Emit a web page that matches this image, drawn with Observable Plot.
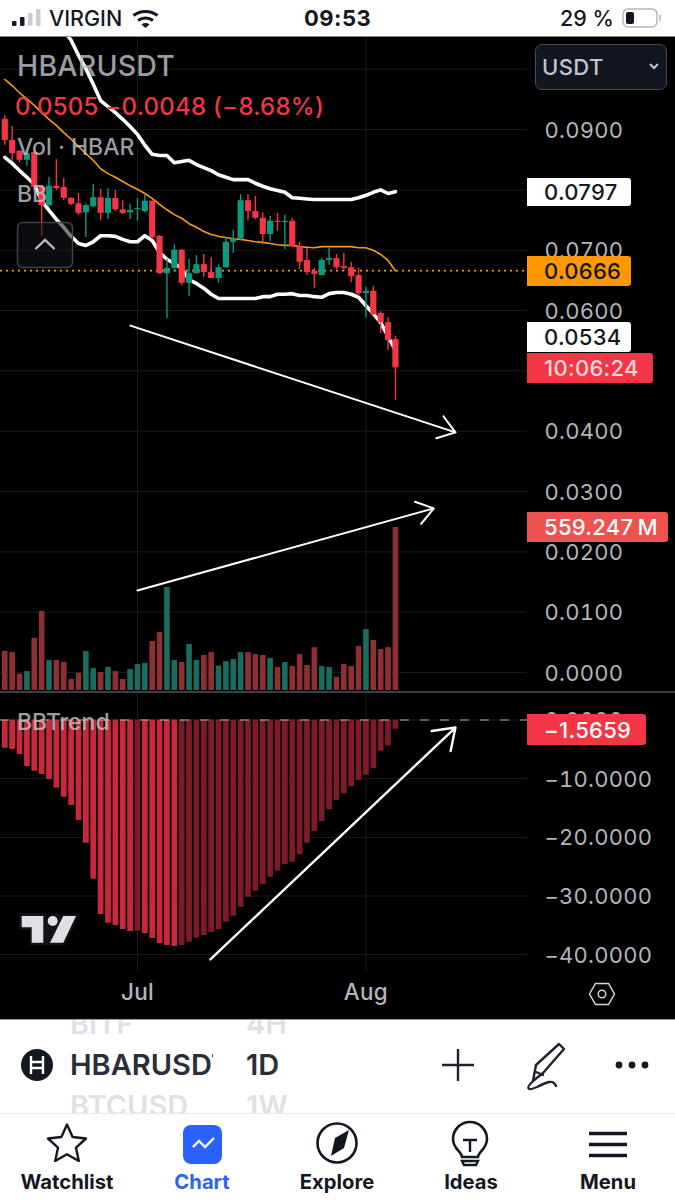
<!DOCTYPE html>
<html>
<head>
<meta charset="utf-8">
<script src="https://cdn.jsdelivr.net/npm/d3@7"></script>
<script src="https://cdn.jsdelivr.net/npm/@observablehq/plot@0.6"></script>
<style>
  html,body{margin:0;padding:0;background:#fff}
  #app{position:relative;width:675px;height:1200px;overflow:hidden;font-family:Inter,"Noto Sans",sans-serif;background:#fff}
  #panel{position:absolute;left:0;top:36px;width:675px;height:984px;background:#000;border-top:1px solid #8a8a8a;border-bottom:1px solid #9a9a9a;box-sizing:border-box}
  .plot{position:absolute;left:0;background:transparent!important}
  .plot text{letter-spacing:.25px}
  .abs{position:absolute;white-space:nowrap;line-height:1}
  .tag{position:absolute;left:527px;font-size:22px;font-weight:500;border-radius:0 3px 3px 0;box-sizing:border-box;padding-left:17px;letter-spacing:.3px;word-spacing:-2px;display:flex;align-items:center}
  .tab{position:absolute;top:1172px;font-weight:700;font-size:20px;color:#131722;line-height:1;transform:translate(-50%,0) scaleX(1.01)}
  svg.chrome{position:absolute;left:0;top:0;overflow:visible;pointer-events:none}
</style>
</head>
<body>
<div id="app"></div>
<script>
// ---------- data ----------
const firstDay = "2024-06-13";
const opens  = [.0917,.0882,.0864,.0849,.0862,.0804,.0774,.0806,.0804,.0786,.0777,.0762,.0772,.0787,.0761,.0786,.0767,.0762,.0767,.0764,.0781,.0723,.0661,.0670,.0700,.0645,.0661,.0676,.0663,.0653,.0671,.0713,.0719,.0782,.0764,.0753,.0726,.0748,.0746,.0748,.0706,.0683,.0665,.0658,.0683,.0686,.0673,.0671,.0658,.0628,.0632,.0595,.0580,.0552];
const highs  = [.0923,.0905,.0865,.0865,.0864,.0806,.0821,.0850,.0819,.0787,.0794,.0777,.0809,.0801,.0802,.0799,.0782,.0776,.0786,.0791,.0782,.0724,.0685,.0709,.0701,.0685,.0691,.0693,.0688,.0676,.0721,.0733,.0792,.0792,.0789,.0762,.0756,.0761,.0758,.0753,.0714,.0703,.0670,.0686,.0703,.0693,.0695,.0680,.0670,.0638,.0640,.0598,.0588,.0557];
const lows   = [.0874,.0847,.0845,.0839,.0799,.0723,.0771,.0799,.0782,.0774,.0758,.0721,.0771,.0749,.0751,.0764,.0759,.0751,.0748,.0762,.0718,.0660,.0587,.0663,.0641,.0623,.0661,.0655,.0653,.0645,.0670,.0695,.0716,.0749,.0751,.0709,.0714,.0731,.0701,.0704,.0668,.0658,.0637,.0658,.0675,.0668,.0665,.0646,.0623,.0588,.0592,.0562,.0534,.0451];
const closes = [.0882,.0860,.0849,.0860,.0804,.0774,.0806,.0802,.0786,.0776,.0761,.0774,.0787,.0761,.0786,.0767,.0761,.0766,.0769,.0781,.0721,.0661,.0670,.0700,.0645,.0661,.0676,.0663,.0653,.0671,.0713,.0719,.0782,.0764,.0753,.0726,.0748,.0746,.0748,.0706,.0680,.0663,.0660,.0683,.0686,.0671,.0670,.0656,.0628,.0632,.0593,.0580,.0550,.0505];
const bbUpper = [null,null,null,null,null,null,null,null,.1064,.1048,.1023,.1001,.0975,.0948,.0938,.0928,.0917,.0905,.0892,.0874,.0859,.0857,.0857,.0845,.0847,.0849,.0842,.0837,.0832,.0825,.0821,.0817,.0817,.0817,.0811,.0806,.0802,.0799,.0796,.0787,.0786,.0785,.0784,.0784,.0784,.0784,.0784,.0784,.0787,.0791,.0796,.0800,.0794,.0797];
const bbBasis = [.0983,.0973,.0961,.0951,.0940,.0928,.0917,.0907,.0895,.0884,.0872,.0860,.0849,.0835,.0827,.0821,.0814,.0807,.0801,.0794,.0786,.0776,.0767,.0759,.0753,.0744,.0738,.0731,.0726,.0723,.0721,.0719,.0718,.0716,.0714,.0713,.0711,.0709,.0708,.0708,.0706,.0705,.0704,.0706,.0706,.0706,.0706,.0706,.0704,.0704,.0700,.0693,.0683,.0666];
const bbLower = [.0854,.0844,.0832,.0821,.0809,.0782,.0766,.0751,.0738,.0723,.0711,.0708,.0714,.0724,.0724,.0723,.0718,.0714,.0714,.0724,.0716,.0696,.0685,.0678,.0670,.0651,.0645,.0637,.0627,.0620,.0620,.0620,.0620,.0620,.0620,.0623,.0623,.0627,.0627,.0628,.0625,.0625,.0623,.0622,.0628,.0630,.0630,.0627,.0622,.0608,.0595,.0580,.0557,.0534];
const volumesM = [134,130,56,65,179,271,103,103,96,38,59,134,75,62,79,65,38,72,89,93,168,199,353,103,96,158,103,120,130,84,99,106,130,130,123,120,110,79,96,82,123,86,147,82,79,45,89,82,151,209,172,141,147,559.247];
const bbTrend = [-4.81,-5.03,-5.88,-7.93,-8.73,-9.29,-10.14,-11.62,-13.16,-14.57,-17.13,-21.0,-27.14,-33.15,-34.64,-35.03,-35.71,-36.05,-35.98,-36.39,-37.24,-38.1,-38.44,-38.61,-38.44,-37.87,-37.19,-36.73,-36.22,-35.71,-34.47,-33.44,-31.91,-30.2,-29.18,-28.04,-26.8,-25.77,-24.63,-24.24,-22.98,-21.0,-19.0,-17.3,-15.31,-13.72,-12.58,-11.33,-10.31,-9.41,-8.27,-5.32,-4.4,-1.5659];
const priceGrid = [0,.01,.02,.03,.04,.05,.06,.07,.08,.09,.1];
const priceLabels = [0,.01,.02,.03,.04,.06,.07,.09];
const trendTicks = [0,-10,-20,-30,-40];
const monthTicks = [new Date("2024-07-01"), new Date("2024-08-01")];
const lastBasis = 0.0666;
const priceArrow  = [{x1:"2024-06-30T01:00Z",y1:.0575,x2:"2024-08-13T03:30Z",y2:.0398}];
const volumeArrow = [{x1:"2024-07-01T00:00Z",y1:.0136,x2:"2024-08-10T05:00Z",y2:.0272}];
const trendArrow  = [{x1:"2024-07-10T21:30Z",y1:-40.8,x2:"2024-08-13T03:30Z",y2:-1.28}];
const tagsList = [
  {label:"0.0797",  top:178, h:28, w:104, bg:"#ffffff", fg:"#131722"},
  {label:"0.0666",  top:256, h:30, w:104, bg:"#ff9800", fg:"#131722"},
  {label:"0.0534",  top:322, h:30, w:104, bg:"#ffffff", fg:"#131722"},
  {label:"10:06:24",top:353, h:30, w:126, bg:"#f23645", fg:"#ffd9dc"},
  {label:"559.247 M",top:512,h:30, w:141, bg:"#ef5350", fg:"#ffffff"},
  {label:"\u22121.5659",top:714,h:31,w:119, bg:"#f23645", fg:"#ffffff"}
];

// ---------- rows ----------
const start = new Date(firstDay + "T00:00Z");
const rows = opens.map((o, i) => ({
  date: d3.utcDay.offset(start, i),
  open: o, high: highs[i], low: lows[i], close: closes[i],
  upper: bbUpper[i], basis: bbBasis[i], lower: bbLower[i],
  vol: volumesM[i], trend: bbTrend[i],
  trendPrev: i ? bbTrend[i - 1] : Infinity
}));

// ---------- styles ----------
const RED = "#f23645", GREEN = "#0a9a80", VRED = "#8c3034", VGREEN = "#1c6b5f";
const TBRIGHT = "#c9283c", TDARK = "#7d1b2a";
const GRID = "#1b1b1b", AXIS = "#b2b5be", FONT = "Inter, 'Noto Sans', sans-serif";
const xScale = {type:"utc", domain:[new Date("2024-06-12T10:00Z"), new Date("2024-08-22T22:05Z")], axis:null};
const common = {width:675, marginLeft:0, marginRight:148, marginTop:0, style:{background:"transparent", overflow:"visible"}};
const axisOpts = {anchor:"right", tickSize:0, tickPadding:17, label:null, fontSize:22, fontWeight:400, fontFamily:FONT, fill:AXIS, dy:1};
const candleStroke = d => d.close >= d.open ? GREEN : RED;

// ---------- price pane ----------
const pricePlot = Plot.plot({
  ...common, height:654, marginBottom:0,
  x:xScale, y:{domain:[-.00315,.10526], axis:null},
  marks:[
    Plot.gridY(priceGrid,{stroke:GRID, strokeOpacity:1}),
    Plot.gridX(monthTicks,{stroke:GRID, strokeOpacity:1}),
    Plot.axisY(priceLabels,{...axisOpts, tickFormat:d3.format(".4f")}),
    Plot.ruleY([lastBasis],{stroke:"#ff9800", strokeWidth:1.7, strokeDasharray:"2,4"}),
    Plot.line(rows,{x:"date", y:"upper", stroke:"#fff", strokeWidth:3.6, clip:true}),
    Plot.line(rows,{x:"date", y:"lower", stroke:"#fff", strokeWidth:3.6, clip:true}),
    Plot.line(rows,{x:"date", y:"basis", stroke:"#f59a1c", strokeWidth:1.6, clip:true}),
    Plot.ruleX(rows,{x:"date", y1:"low", y2:"high", stroke:candleStroke, strokeWidth:1.4}),
    Plot.ruleX(rows,{x:"date", y1:"open", y2:"close", stroke:candleStroke, strokeWidth:6.2}),
    Plot.arrow(priceArrow,{x1:d=>new Date(d.x1), y1:"y1", x2:d=>new Date(d.x2), y2:"y2", stroke:"#fff", strokeWidth:2, headLength:15, headAngle:70, bend:0}),
    Plot.arrow(volumeArrow,{x1:d=>new Date(d.x1), y1:"y1", x2:d=>new Date(d.x2), y2:"y2", stroke:"#fff", strokeWidth:2, headLength:15, headAngle:70, bend:0})
  ]
});

// ---------- volume pane (own scale, over the price pane) ----------
const volumePlot = Plot.plot({
  ...common, height:654, marginBottom:1,
  x:xScale, y:{domain:[0,2240], axis:null},
  marks:[
    Plot.ruleX(rows,{x:"date", y1:0, y2:"vol", stroke:d=>d.close>=d.open?VGREEN:VRED, strokeWidth:5.6})
  ]
});

// ---------- BBTrend pane ----------
const trendPlot = Plot.plot({
  ...common, height:327, marginBottom:47,
  x:xScale, y:{domain:[-43.04,4.69], axis:null},
  marks:[
    Plot.gridY(trendTicks,{stroke:GRID, strokeOpacity:1}),
    Plot.gridX(monthTicks,{stroke:GRID, strokeOpacity:1}),
    Plot.axisY(trendTicks,{...axisOpts, tickFormat:d3.format(".4f")}),
    Plot.axisX(monthTicks,{anchor:"bottom", tickSize:0, tickPadding:12, label:null, fontSize:22.5, fontWeight:500, fontFamily:FONT, fill:AXIS, tickFormat:d3.utcFormat("%b")}),
    Plot.ruleX(rows,{x:"date", y1:0, y2:"trend", stroke:d=>d.trend<d.trendPrev?TBRIGHT:TDARK, strokeWidth:5.7}),
    Plot.ruleY([0],{stroke:"#aeb1b8", strokeWidth:1.2, strokeDasharray:"9,11"}),
    Plot.arrow(trendArrow,{x1:d=>new Date(d.x1), y1:"y1", x2:d=>new Date(d.x2), y2:"y2", stroke:"#fff", strokeWidth:2.4, headLength:15, headAngle:70, bend:0})
  ]
});

const app = document.getElementById("app");
function txt(s, left, top, size, color, weight, extra=""){
  const d = document.createElement("div");
  d.className = "abs";
  d.textContent = s;
  d.style.cssText = `left:${left}px;top:${top}px;font-size:${size}px;color:${color};font-weight:${weight};${extra}`;
  app.appendChild(d);
  return d;
}

// bottom picker (drawn first: the chart panel and the tab bar hide its edges)
const clip=(s,left,top,size,color,w)=>txt(s,left,top,size,color,600,`width:${w}px;overflow:hidden`);
clip("BITF",70,1009,29,"#dfe1e6",90); clip("4H",246,1009,29,"#dfe1e6",60);
clip("HBARUSDT",70,1050,29,"#2a2e39",143); clip("1D",246,1050,29,"#2a2e39",60);
clip("BTCUSD",70,1091,29,"#dfe1e6",130); clip("1W",246,1091,29,"#dfe1e6",60);
const cover=document.createElement("div");
cover.style.cssText="position:absolute;left:0;top:1113px;width:675px;height:87px;background:#fff;border-top:1px solid #e8e9ec";
app.appendChild(cover);
const panel=document.createElement("div"); panel.id="panel"; app.appendChild(panel);

[[pricePlot,37],[volumePlot,37],[trendPlot,692]].forEach(([p,t])=>{
  p.classList.add("plot"); p.style.top = t + "px"; app.appendChild(p);
});

const sep = document.createElement("div");
sep.style.cssText = "position:absolute;left:0;top:691px;width:675px;height:1.5px;background:#3b3e48";
app.appendChild(sep);

// legends
const LEG = "rgba(190,193,202,.82)";
txt("HBARUSDT",17,52,28.5,LEG,500,"letter-spacing:.2px");
txt("0.0505 \u22120.0048 (\u22128.68%)",15,95,24,"#f23645",500,"letter-spacing:.25px");
txt("Vol \u00b7 HBAR",17,136,23,LEG,500);
txt("BB",17,183,23,LEG,500);
txt("BBTrend",17,711,23,LEG,500);

// tags
tagsList.forEach(t=>{
  const d=document.createElement("div");
  d.className="tag"; d.textContent=t.label;
  d.style.cssText=`top:${t.top}px;height:${t.h}px;width:${t.w}px;background:${t.bg};color:${t.fg}`;
  app.appendChild(d);
});

// USDT button
const btn=document.createElement("div");
btn.style.cssText="position:absolute;left:535px;top:44px;width:132px;height:46px;background:#12161f;border:1.5px solid #444953;border-radius:7px;box-sizing:border-box";
app.appendChild(btn);
txt("USDT",542,56,22,"#c3c6ce",500,"letter-spacing:.4px");

// status bar
txt("VIRGIN",49,8,21.5,"#131722",500);
txt("09:53",304,7,22,"#131722",700,"letter-spacing:.5px");
txt("29 %",560,8,21.5,"#131722",500);

// tabs
[["Watchlist",67,"#131722"],["Chart",202,"#2962ff"],["Explore",337,"#131722"],["Ideas",471,"#131722"],["Menu",608,"#131722"]].forEach(([s,x,c])=>{
  const d=document.createElement("div"); d.className="tab"; d.textContent=s;
  d.style.left=x+"px"; d.style.color=c; app.appendChild(d);
});

// icons
const ns = document.createElementNS("http://www.w3.org/2000/svg","svg");
ns.setAttribute("class","chrome"); ns.setAttribute("width",675); ns.setAttribute("height",1200);
ns.innerHTML = `
  <rect x="12" y="21" width="4.5" height="5" rx="1" fill="#131722"/>
  <rect x="20" y="17" width="4.5" height="9" rx="1" fill="#131722"/>
  <rect x="28" y="13" width="4.5" height="13" rx="1" fill="#c9cbd0"/>
  <rect x="36" y="9" width="4.5" height="17" rx="1" fill="#c9cbd0"/>
  <g fill="none" stroke="#131722" stroke-width="3.2" stroke-linecap="butt">
    <path d="M133.5 15.5a20 20 0 0 1 24 0"/><path d="M138 20.5a13 13 0 0 1 15 0"/>
  </g>
  <path d="M141.5 24.5a7 7 0 0 1 8 0L145.5 28Z" fill="#131722"/>
  <rect x="623" y="9" width="34" height="18" rx="5" fill="none" stroke="#b5b7bc" stroke-width="1.5"/>
  <rect x="626" y="12" width="8" height="12" rx="2" fill="#131722"/>
  <path d="M660 15v6" stroke="#b5b7bc" stroke-width="1.5"/>
  <rect x="17.5" y="222.5" width="55" height="45" rx="5" fill="rgba(20,22,28,.55)" stroke="#3f424b" stroke-width="1.5"/>
  <path d="M35.5 249l9.5-9 9.5 9" fill="none" stroke="#b9bcc4" stroke-width="2.4"/>
  <path d="M650 64l4 4 4-4" fill="none" stroke="#c3c6ce" stroke-width="2"/>
  <path d="M19 913H45L47 918 52 914H80L65 945H30V930H19Z" fill="#10131a"/>
  <path d="M21.7 916H43.3V942.7H31.7V927.3H21.7Z" fill="#dfe0e6"/>
  <circle cx="52.7" cy="921" r="5" fill="#dfe0e6"/>
  <path d="M63.3 916H76L63.3 942.7H50Z" fill="#dfe0e6"/>
  <path d="M589.5 994l6-10.5h13l6 10.5-6 10.5h-13Z" fill="none" stroke="#d5d7dc" stroke-width="1.5"/>
  <circle cx="602" cy="994" r="3.8" fill="none" stroke="#d5d7dc" stroke-width="1.5"/>
  <circle cx="37" cy="1065" r="16" fill="#131722"/>
  <path d="M31 1056v18M43 1056v18M31 1062h12M31 1068h12" stroke="#fff" stroke-width="2.4" fill="none"/>
  <path d="M458 1049v32M442 1065h32" stroke="#1e222d" stroke-width="2.4"/>
  <path d="M533 1081l3-16 23-21 5 5-21 24Z" fill="none" stroke="#1e222d" stroke-width="2.4" stroke-linejoin="round"/>
  <path d="M536 1072l7 3M533 1081c-8 8 -5 10 4 6c10-5 16-8 19-1" fill="none" stroke="#1e222d" stroke-width="2.4" stroke-linecap="round"/>
  <circle cx="619" cy="1065" r="3.4" fill="#131722"/><circle cx="632" cy="1065" r="3.4" fill="#131722"/><circle cx="645" cy="1065" r="3.4" fill="#131722"/>
  <path d="M67 1124.5l5.6 12.5 13.4 1.5-10 9.2 2.8 13.3-11.8-6.8-11.8 6.8 2.8-13.3-10-9.2 13.4-1.5Z" fill="none" stroke="#131722" stroke-width="2.4" stroke-linejoin="round"/>
  <rect x="183" y="1125" width="39" height="39" rx="8" fill="#2962ff"/>
  <path d="M193 1147l6-6 6 6 9-9" fill="none" stroke="#fff" stroke-width="2.4"/>
  <circle cx="337" cy="1143" r="19.5" fill="none" stroke="#131722" stroke-width="2.6"/>
  <path d="M349 1130l-5 18-13 8 4-18Z" fill="#131722"/>
  <path d="M462 1157c0-5-9-8-9-18a17 17 0 0 1 34 0c0 10-9 13-9 18Z" fill="none" stroke="#131722" stroke-width="2.6"/>
  <path d="M462 1161h16l-2 4h-12Z" fill="none" stroke="#131722" stroke-width="2.4"/>
  <path d="M463 1140h14M470 1140v12" stroke="#131722" stroke-width="2.4"/>
  <path d="M589 1133.5h38M589 1144.5h38M589 1155.5h38" stroke="#131722" stroke-width="3.6"/>`;
app.appendChild(ns);
</script>
</body>
</html>
